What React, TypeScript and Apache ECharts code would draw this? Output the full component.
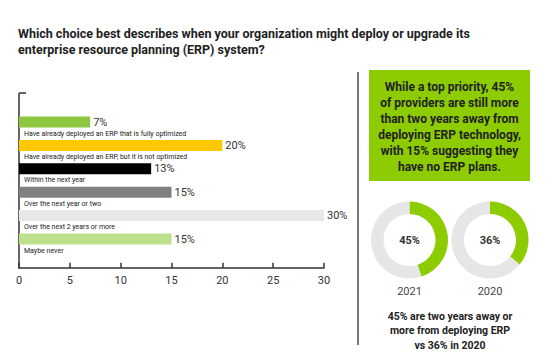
import React, { useEffect, useRef } from "react";
import * as echarts from "echarts";

const titleLines = [
  "Which choice best describes when your organization might deploy or upgrade its",
  "enterprise resource planning (ERP) system?",
];
const categories = [
  "Have already deployed an ERP that is fully optimized",
  "Have already deployed an ERP, but it is not optimized",
  "Within the next year",
  "Over the next year or two",
  "Over the next 2 years or more",
  "Maybe never",
];
const values = [7, 20, 13, 15, 30, 15];
const barColors = ["#8dc63f", "#ffc800", "#000000", "#808080", "#e8e8e8", "#bde08c"];
const calloutLines = [
  "While a top priority, 45%",
  "of providers are still more",
  "than two years away from",
  "deploying ERP technology,",
  "with 15% suggesting they",
  "have no ERP plans.",
];
const years = ["2021", "2020"];
const shares = [45, 36];
const footLines = ["45% are two years away or", "more from deploying ERP", "vs 36% in 2020"];

const FONT = "Roboto, 'Liberation Sans', Arial, sans-serif";
const GREEN = "#8ccc00";

export default function App() {
  const ref = useRef<HTMLDivElement>(null);
  useEffect(() => {
    if (!ref.current) return;
    const chart = echarts.init(ref.current, undefined, { renderer: "svg" });
    const donutCenters = [409.5, 490];
    const option: any = {
      animation: false,
      backgroundColor: "#ffffff",
      textStyle: { fontFamily: FONT },
      title: {
        text: titleLines.join("\n"),
        left: 13,
        top: 21,
        textStyle: { fontFamily: FONT, fontSize: 12.5, fontWeight: "bold", color: "#222", lineHeight: 15.5 },
      },
      grid: { left: 19, right: 230, top: 110.3, height: 140.4 },
      xAxis: {
        type: "value",
        min: 0,
        max: 30,
        interval: 5,
        offset: 17,
        axisLine: { show: true, lineStyle: { color: "#333", width: 1.5 } },
        axisTick: { show: true, inside: true, length: 5, lineStyle: { color: "#333", width: 1.5 } },
        axisLabel: { margin: 7, fontSize: 11, color: "#333", fontFamily: FONT },
        splitLine: { show: false },
      },
      yAxis: {
        type: "category",
        inverse: true,
        data: categories,
        axisLine: { show: false },
        axisTick: { show: false },
        axisLabel: {
          inside: true,
          margin: 5,
          fontSize: 7,
          color: "#222",
          verticalAlign: "top",
          padding: [8, 0, 0, 0],
          fontFamily: FONT,
        },
      },
      series: [
        {
          type: "bar",
          data: values.map((v, i) => ({ value: v, itemStyle: { color: barColors[i] } })),
          barWidth: 11,
          label: {
            show: true,
            position: "right",
            distance: 3,
            formatter: "{c}%",
            fontSize: 11,
            color: "#333",
            fontFamily: FONT,
          },
          z: 2,
        },
        ...shares.map((s, i) => ({
          type: "pie",
          center: [donutCenters[i], 240],
          radius: [26, 38.5],
          startAngle: 90,
          clockwise: true,
          silent: true,
          labelLine: { show: false },
          data: [
            {
              value: s,
              itemStyle: { color: GREEN },
              label: {
                show: true,
                position: "center",
                formatter: s + "%",
                fontSize: 11,
                fontWeight: "bold",
                color: "#333",
                fontFamily: FONT,
              },
            },
            { value: 100 - s, itemStyle: { color: "#e6e6e6" }, label: { show: false } },
          ],
        })),
      ],
      graphic: [
        { type: "line", shape: { x1: 19, y1: 93, x2: 19, y2: 268.5 }, style: { stroke: "#333", lineWidth: 1.5 } },
        { type: "line", shape: { x1: 19, y1: 93, x2: 26, y2: 93 }, style: { stroke: "#333", lineWidth: 1.5 } },
        { type: "line", shape: { x1: 358, y1: 72, x2: 358, y2: 345 }, style: { stroke: "#777", lineWidth: 2 } },
        { type: "rect", shape: { x: 369, y: 70, width: 161, height: 111 }, style: { fill: GREEN } },
        {
          type: "text",
          x: 449.5,
          y: 127,
          style: {
            text: calloutLines.join("\n"),
            textAlign: "center",
            textVerticalAlign: "middle",
            font: "bold 12px " + FONT,
            lineHeight: 16,
            fill: "#222",
          },
        },
        ...years.map((y, i) => ({
          type: "text",
          x: donutCenters[i],
          y: 291,
          style: { text: y, textAlign: "center", textVerticalAlign: "middle", font: "11px " + FONT, fill: "#444" },
        })),
        {
          type: "text",
          x: 450,
          y: 330.5,
          style: {
            text: footLines.join("\n"),
            textAlign: "center",
            textVerticalAlign: "middle",
            font: "bold 10.5px " + FONT,
            lineHeight: 14.5,
            fill: "#222",
          },
        },
      ],
    };
    chart.setOption(option);
    return () => chart.dispose();
  }, []);
  return (
    <div
      ref={ref}
      style={{ position: "fixed", left: 0, top: 0, width: 554, height: 352, background: "#fff" }}
    />
  );
}
